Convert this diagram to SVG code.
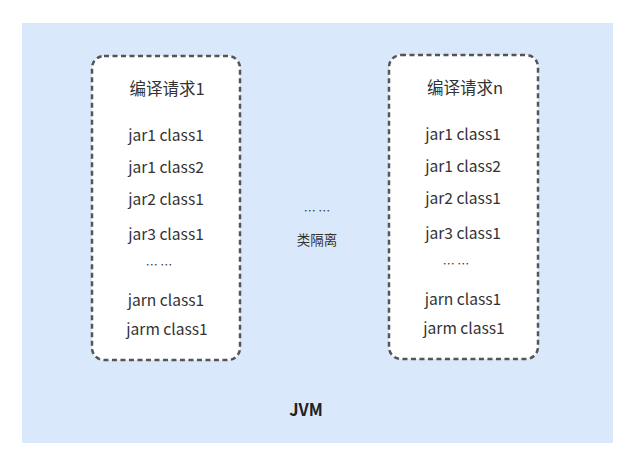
<svg xmlns="http://www.w3.org/2000/svg" width="626" height="468" viewBox="0 0 626 468">
<style>
.t{font-family:"Noto Sans CJK SC","Noto Sans",sans-serif;font-size:15.6px;fill:#333;text-anchor:middle}
.h{font-size:16.5px}
.e{font-size:12px}
.box{fill:#fff;stroke:#555;stroke-width:2.5;stroke-dasharray:5 3.5}
</style>
<rect width="626" height="468" fill="#fff"/>
<g id="jvm">
<rect x="22" y="23" width="591" height="420" fill="#dae8fc"/>
<text class="t" x="306" y="416" style="font-weight:bold;font-size:16.5px;fill:#222">JVM</text>
</g>
<g id="req1">
<rect class="box" x="92" y="56" width="148" height="304" rx="12"/>
<text class="t h" x="167" y="95">编译请求1</text>
<text class="t" x="166" y="141">jar1 class1</text>
<text class="t" x="166" y="173">jar1 class2</text>
<text class="t" x="166" y="205">jar2 class1</text>
<text class="t" x="166" y="240">jar3 class1</text>
<text class="t e" x="159" y="270">… …</text>
<text class="t" x="166" y="306">jarn class1</text>
<text class="t" x="167" y="335">jarm class1</text>
</g>
<g id="reqn">
<rect class="box" x="389" y="55" width="149" height="304" rx="12"/>
<text class="t h" x="465" y="94">编译请求n</text>
<text class="t" x="463" y="140">jar1 class1</text>
<text class="t" x="463" y="172">jar1 class2</text>
<text class="t" x="463" y="204">jar2 class1</text>
<text class="t" x="463" y="239">jar3 class1</text>
<text class="t e" x="456" y="269">… …</text>
<text class="t" x="463" y="305">jarn class1</text>
<text class="t" x="464" y="334">jarm class1</text>
</g>
<g id="middle">
<text class="t e" x="317" y="216">… …</text>
<text class="t" x="317" y="245" style="font-size:13.5px">类隔离</text>
</g>
<g id="connectors"></g>
</svg>
